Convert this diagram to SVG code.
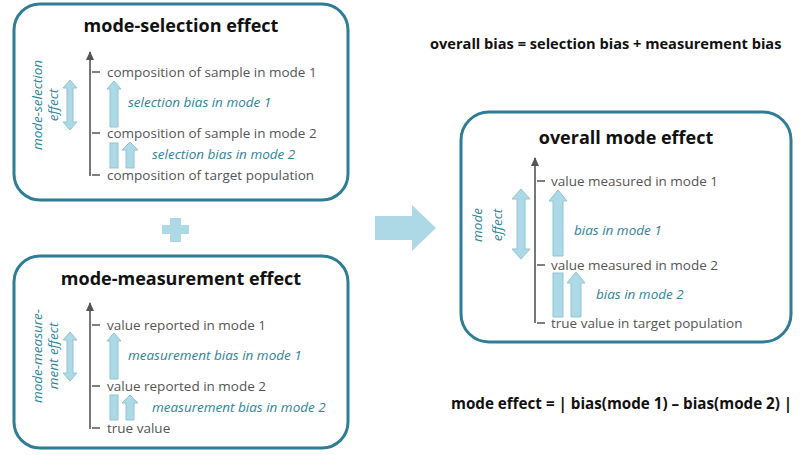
<svg xmlns="http://www.w3.org/2000/svg" width="808" height="455" viewBox="0 0 808 455">
<style>
.box{fill:#fff;stroke:#2e7d96;stroke-width:3}
.ttl{font-family:"Open Sans",sans-serif;font-weight:bold;font-size:18px;fill:#111;text-anchor:middle}
.lbl{font-family:"Open Sans",sans-serif;font-size:13.5px;fill:#555}
.it{font-family:"Open Sans",sans-serif;font-style:italic;font-size:13.5px;fill:#2e8499}
.ax{stroke:#555;stroke-width:1.6;fill:none}
.ba{fill:#acd9e5;stroke:#8fc5d3;stroke-width:1}
.eq{font-family:"Open Sans",sans-serif;font-weight:bold;font-size:14.6px;fill:#111}
</style>
<defs>
<marker id="ah" markerWidth="9" markerHeight="8" refX="8" refY="4" orient="auto" markerUnits="userSpaceOnUse"><path d="M0,0 L9,4 L0,8 Z" fill="#555"/></marker>
</defs>
<g id="selection">
<rect class="box" x="14" y="4" width="334" height="196" rx="26"/>
<text class="ttl" x="181" y="32">mode-selection effect</text>
<line class="ax" x1="90" y1="176" x2="90" y2="52" marker-end="url(#ah)"/>
<path class="ax" d="M92 72H100M92 133H100M92 175H100"/>
<text class="lbl" x="107" y="77">composition of sample in mode 1</text>
<text class="lbl" x="107" y="138">composition of sample in mode 2</text>
<text class="lbl" x="107" y="180">composition of target population</text>
<path class="ba" d="M70 80 L77 88 L73 88 L73 122 L77 122 L70 130 L63 122 L67 122 L67 88 L63 88 Z"/>
<text class="it" transform="translate(42,105) rotate(-90)" text-anchor="middle">mode-selection</text>
<text class="it" transform="translate(58,105) rotate(-90)" text-anchor="middle">effect</text>
<path class="ba" d="M110 127 V89 H107 L114 81 L121 89 H118 V127 Z"/>
<rect class="ba" x="110" y="143" width="8" height="25"/>
<path class="ba" d="M126 168 V150 H122 L130 142 L138 150 H134 V168 Z"/>
<text class="it" x="128" y="107">selection bias in mode 1</text>
<text class="it" x="152" y="159">selection bias in mode 2</text>
</g>
<g id="plus"><path d="M170 218 H181 V225 H189 V234 H181 V242 H170 V234 H162 V225 H170 Z" fill="#acd9e5"/></g>
<g id="measurement">
<rect class="box" x="14" y="256" width="334" height="192" rx="26"/>
<text class="ttl" x="181" y="285">mode-measurement effect</text>
<line class="ax" x1="90" y1="429" x2="90" y2="303" marker-end="url(#ah)"/>
<path class="ax" d="M92 325H100M92 386H100M92 428H100"/>
<text class="lbl" x="107" y="330">value reported in mode 1</text>
<text class="lbl" x="107" y="391">value reported in mode 2</text>
<text class="lbl" x="107" y="433">true value</text>
<path class="ba" d="M70 332 L77 340 L73 340 L73 373 L77 373 L70 381 L63 373 L67 373 L67 340 L63 340 Z"/>
<text class="it" transform="translate(42,356) rotate(-90)" text-anchor="middle">mode-measure-</text>
<text class="it" transform="translate(58,356) rotate(-90)" text-anchor="middle">ment effect</text>
<path class="ba" d="M110 379 V341 H107 L114 333 L121 341 H118 V379 Z"/>
<rect class="ba" x="110" y="395" width="8" height="25"/>
<path class="ba" d="M126 420 V403 H122 L130 395 L138 403 H134 V420 Z"/>
<text class="it" x="128" y="360">measurement bias in mode 1</text>
<text class="it" x="152" y="412">measurement bias in mode 2</text>
</g>
<g id="connectors"><path d="M375 216 H412 V205 L436 228 L412 251 V240 H375 Z" fill="#acd9e5"/></g>
<g id="overall">
<rect class="box" x="461" y="112" width="330" height="230" rx="28"/>
<text class="ttl" x="626" y="144">overall mode effect</text>
<line class="ax" x1="535" y1="323" x2="535" y2="158" marker-end="url(#ah)"/>
<path class="ax" d="M537 181H545M537 265H545M537 323H545"/>
<text class="lbl" x="551" y="186">value measured in mode 1</text>
<text class="lbl" x="551" y="270">value measured in mode 2</text>
<text class="lbl" x="551" y="328">true value in target population</text>
<path class="ba" d="M521 189 L530 199 L525 199 L525 249 L530 249 L521 259 L512 249 L517 249 L517 199 L512 199 Z"/>
<text class="it" transform="translate(482,225) rotate(-90)" text-anchor="middle">mode</text>
<text class="it" transform="translate(502,225) rotate(-90)" text-anchor="middle">effect</text>
<path class="ba" d="M553 256 V201 H549 L558 190 L567 201 H563 V256 Z"/>
<rect class="ba" x="553" y="273" width="10" height="44"/>
<path class="ba" d="M571 317 V283 H567 L576 272 L585 283 H581 V317 Z"/>
<text class="it" x="574" y="235">bias in mode 1</text>
<text class="it" x="596" y="299">bias in mode 2</text>
</g>
<text class="eq" x="430" y="49">overall bias = selection bias + measurement bias</text>
<text class="eq" x="451" y="409" style="font-size:15.2px">mode effect = | bias(mode 1) – bias(mode 2) |</text>
</svg>
